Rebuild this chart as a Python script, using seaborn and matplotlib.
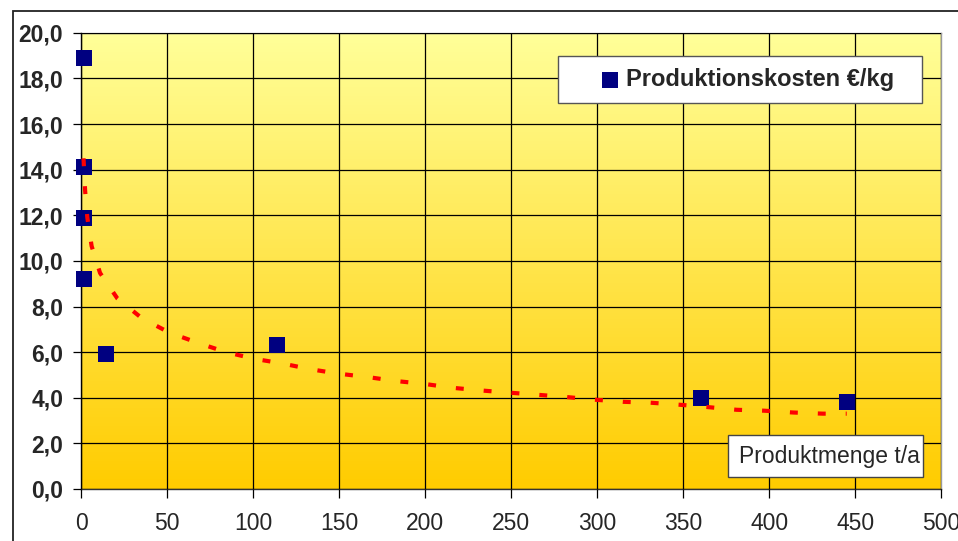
import numpy as np
import pandas as pd
import matplotlib
matplotlib.use("Agg")
import matplotlib.pyplot as plt
import seaborn as sns
from matplotlib.colors import LinearSegmentedColormap
from matplotlib.patches import Rectangle

# data
menge = [1.3, 1.8, 1.3, 1.3, 14.5, 113.5, 360, 445]    # t/a
kosten = [18.9, 14.1, 11.9, 9.2, 5.9, 6.3, 4.0, 3.8]  # EUR/kg

# trend line (as drawn in the picture)
trend_x = [1.3, 2.2, 3.5, 6.0, 10.9, 21, 35, 51, 68, 84, 101, 117, 133, 150,
           167, 183, 199, 215, 232, 249, 265, 282, 299, 315, 331, 348, 364,
           381, 397, 414, 431, 445]
trend_y = [14.5, 13.1, 11.9, 10.65, 9.47, 8.35, 7.5, 6.86, 6.4, 6.0, 5.7, 5.5,
           5.25, 5.05, 4.9, 4.73, 4.61, 4.44, 4.32, 4.22, 4.13, 4.03, 3.91,
           3.82, 3.78, 3.69, 3.59, 3.47, 3.43, 3.35, 3.3, 3.3]

x_ticks = [0, 50, 100, 150, 200, 250, 300, 350, 400, 450, 500]
y_ticks = [0, 2, 4, 6, 8, 10, 12, 14, 16, 18, 20]
y_tick_labels = ["0,0", "2,0", "4,0", "6,0", "8,0", "10,0", "12,0", "14,0",
                 "16,0", "18,0", "20,0"]

series_label = "Produktionskosten €/kg"
x_title = "Produktmenge t/a"

df = pd.DataFrame({"menge": menge, "kosten": kosten})
trend = pd.DataFrame({"x": trend_x, "y": trend_y})

sns.set_style("white")
plt.rcParams['font.family'] = ['Liberation Sans', 'DejaVu Sans']

W, H = 958, 541
fig = plt.figure(figsize=(W / 100, H / 100), dpi=100)
ax = fig.add_axes([81.3 / W, (H - 488.9) / H, 860 / W, 456 / H])

# gold gradient background
cmap = LinearSegmentedColormap.from_list("gold", ["#FFFF99", "#FFCC00"])
ax.imshow(np.linspace(0, 1, 256).reshape(-1, 1), cmap=cmap, aspect="auto",
          extent=[0, 1, 0, 1], transform=ax.transAxes, zorder=-1)

sns.scatterplot(data=df, x="menge", y="kosten", marker="s", s=117,
                color="#000080", linewidth=0, label=series_label, ax=ax,
                zorder=3, clip_on=False)
sns.lineplot(data=trend, x="x", y="y", color="#FF0000", lw=3,
             dashes=False, ax=ax, zorder=4, legend=False)
ax.lines[-1].set_dashes((1.9, 4.8))
ax.lines[-1].set_dash_capstyle("butt")

ax.set_xlim(0, 500)
ax.set_ylim(0, 20)
ax.set_xticks(x_ticks)
ax.set_yticks(y_ticks)
ax.set_yticklabels(y_tick_labels)
ax.set_xlabel("")
ax.set_ylabel("")
ax.grid(True, color="black", lw=0.9)
ax.set_axisbelow(False)

ax.tick_params(axis="y", direction="out", length=6, width=0.9, pad=7,
               labelsize=16.5, left=True, color="black")
ax.tick_params(axis="x", direction="out", length=6.5, width=0.9, pad=10,
               labelsize=16.5, bottom=True, color="black")
for t in ax.get_yticklabels():
    t.set_fontweight("bold")

ax.spines["left"].set_color("black")
ax.spines["bottom"].set_color("#333333")
ax.spines["top"].set_color("#999999")
ax.spines["right"].set_color("#999999")
for s in ax.spines.values():
    s.set_linewidth(1)

leg = ax.legend(loc="center", mode="expand",
                bbox_to_anchor=(558 / W, 1 - 104 / H, 364 / W, 49 / H),
                bbox_transform=fig.transFigure, borderaxespad=0,
                prop={"size": 17, "weight": "bold"}, frameon=True,
                fancybox=False, framealpha=1, borderpad=0.5,
                handlelength=3.4, handletextpad=-1.0)
leg.get_frame().set_edgecolor("#555555")
leg.get_frame().set_linewidth(1)

# axis title box
fig.patches.append(Rectangle((727.7 / W, 1 - 477.3 / H), 195.6 / W, 42.3 / H,
                             transform=fig.transFigure, facecolor="white",
                             edgecolor="#444444", lw=1, zorder=2))
fig.text(739 / W, 1 - 456 / H, x_title, fontsize=16.5, va="center", ha="left",
         zorder=3)

# chart area border
fig.patches.append(Rectangle((13 / W, -0.05), 1.0, 1.05 - 11 / H,
                             transform=fig.transFigure, fill=False,
                             edgecolor="#222222", lw=1.3, zorder=2))

fig.savefig("out.png", dpi=100)
